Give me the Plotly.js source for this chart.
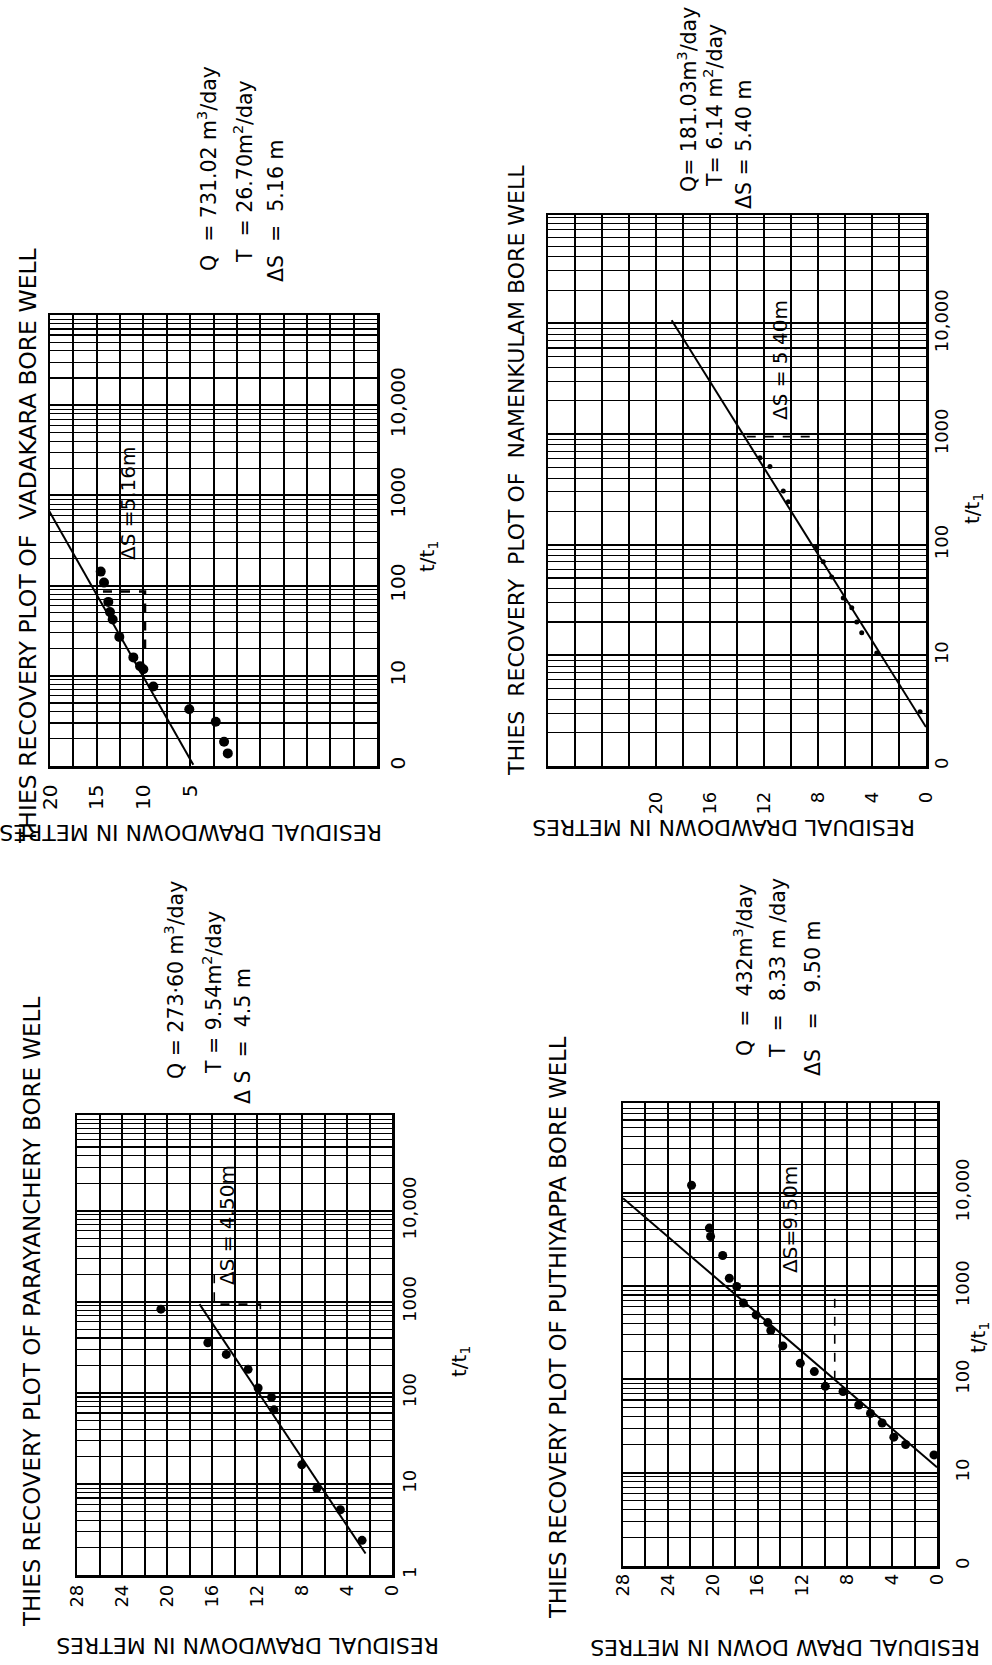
<!DOCTYPE html>
<html>
<head>
<meta charset="utf-8">
<script src="https://cdn.plot.ly/plotly-3.0.1.min.js"></script>
<style>
html,body{margin:0;padding:0;background:#fff;}
#chart{width:992px;height:1665px;}
</style>
</head>
<body>
<div id="chart"></div>
<script>
// ---------- DATA ----------
const vadakaraT = [143, 108, 66, 51, 42, 27, 16, 12.8, 11.8, 7.6, 4.25, 3.1, 1.86, 1.38];
const vadakaraS = [14.57, 14.22, 13.76, 13.58, 13.29, 12.58, 11.08, 10.36, 10.01, 8.94, 5.09, 2.26, 1.37, 0.97];
const vadakaraFitT = [1.03, 750];
const vadakaraFitS = [4.66, 20.35];
const vadakaraDeltaT = [86, 86, 17.9];
const vadakaraDeltaS = [14.33, 9.83, 9.83];

const namenkulamT = [610, 508, 306, 245, 96, 70, 51, 33, 27, 20, 16, 10.5, 3.1];
const namenkulamS = [12.3, 11.56, 10.57, 10.2, 8.1, 7.61, 6.99, 6.13, 5.5, 5.13, 4.76, 3.65, 0.44];
const namenkulamFitT = [2.25, 10700];
const namenkulamFitS = [0, 18.84];
const namenkulamDeltaT = [949, 949, 90];
const namenkulamDeltaS = [13.28, 7.98, 7.98];

const parayancheryT = [2.4, 5.2, 8.9, 16.2, 65, 89, 113, 181, 264, 355, 829];
const parayancheryS = [2.66, 4.59, 6.68, 8.02, 10.49, 10.71, 11.9, 12.79, 14.73, 16.37, 20.54];
const parayancheryFitT = [1.72, 942];
const parayancheryFitS = [2.35, 17.11];
const parayancheryDeltaT = [2000, 942, 942, 660];
const parayancheryDeltaS = [15.8, 15.8, 11.7, 11.7];

const puthiyappaT = [12000, 4170, 3390, 2120, 1210, 986, 655, 490, 405, 333, 228, 149, 121, 84, 74, 53, 43, 34, 24, 20, 15.5];
const puthiyappaS = [21.89, 20.3, 20.19, 19.11, 18.52, 17.86, 17.26, 16.13, 15.09, 14.82, 13.75, 12.19, 10.94, 9.96, 8.38, 6.98, 5.93, 4.89, 3.85, 2.8, 0.27];
const puthiyappaFitT = [8710, 11.4];
const puthiyappaFitS = [28, 0];
const puthiyappaDeltaT = [99, 912];
const puthiyappaDeltaS = [9.12, 9.12];

// tick labels
const tTickVals = [1, 10, 100, 1000, 10000];
const vadakaraTTicks = ['0', '10', '100', '1000', '10,000'];
const namenkulamTTicks = ['0', '10', '100', '1000', '10,000'];
const parayancheryTTicks = ['1', '10', '100', '1000', '10,000'];
const puthiyappaTTicks = ['0', '10', '100', '1000', '10,000'];
const vadakaraSTicks = [20, 15, 10, 5];
const namenkulamSTicks = [20, 16, 12, 8, 4, 0];
const parayancherySTicks = [28, 24, 20, 16, 12, 8, 4, 0];
const puthiyappaSTicks = [28, 24, 20, 16, 12, 8, 4, 0];

// texts
const titles = ['THIES RECOVERY PLOT OF  VADAKARA BORE WELL',
                'THIES  RECOVERY  PLOT OF  NAMENKULAM BORE WELL',
                'THIES RECOVERY PLOT OF PARAYANCHERY BORE WELL',
                'THIES RECOVERY PLOT OF PUTHIYAPPA BORE WELL'];
const infoQ = ['Q  = 731.02 m<sup>3</sup>/day', 'Q= 181.03m<sup>3</sup>/day', 'Q = 273·60 m<sup>3</sup>/day', 'Q  =  432m<sup>3</sup>/day'];
const infoT = ['T  = 26.70m<sup>2</sup>/day', 'T= 6.14 m<sup>2</sup>/day', 'T = 9.54m<sup>2</sup>/day', 'T  =  8.33 m /day'];
const infoDS = ['ΔS  =  5.16 m', 'ΔS = 5.40 m', 'Δ S  =  4.5 m', 'ΔS   =   9.50 m'];
const deltaLabels = ['ΔS =5.16m', 'ΔS = 5.40m', 'ΔS = 4.50m', 'ΔS=9.50m'];
const sTitles = ['RESIDUAL DRAWDOWN IN METRES', 'RESIDUAL DRAWDOWN IN METRES', 'RESIDUAL DRAWDOWN IN METRES', 'RESIDUAL DRAW DOWN IN METRES'];

// ---------- LAYOUT ----------
const W = 992, H = 1665;
const FONT = 'DejaVu Sans, Liberation Sans, Arial, sans-serif';
const fx = px => px / W;
const fy = px => 1 - px / H;

const panels = [
  {t: vadakaraT, s: vadakaraS, ft: vadakaraFitT, fs: vadakaraFitS, dt: vadakaraDeltaT, ds: vadakaraDeltaS,
   box: [50, 377, 315, 766], srange: [20, -15], sdt: 2.5, trange: [0, 5.0],
   sticks: vadakaraSTicks, tticks: vadakaraTTicks, msize: 10, dashW: 2.5, tickSize: 20,
   xStand: 8, yStand: 1, titleSize: 23.5,
   title: [28, 546], q: [207, 169], T: [244, 172], d: [276, 211], dl: [128, 503], ax: [191, 832], tt: [428, 557]},
  {t: namenkulamT, s: namenkulamS, ft: namenkulamFitT, fs: namenkulamFitS, dt: namenkulamDeltaT, ds: namenkulamDeltaS,
   box: [548, 926, 215, 766], srange: [28, 0], sdt: 2, trange: [0, 4.98],
   sticks: namenkulamSTicks, tticks: namenkulamTTicks, msize: 5, dashW: 1.6, tickSize: 18,
   xStand: 16, yStand: -2, titleSize: 22,
   title: [516, 471], q: [688, 100], T: [714, 106], d: [744, 145], dl: [780, 360], ax: [724, 828], tt: [973, 509]},
  {t: parayancheryT, s: parayancheryS, ft: parayancheryFitT, fs: parayancheryFitS, dt: parayancheryDeltaT, ds: parayancheryDeltaS,
   box: [77, 392, 1115, 1575], srange: [28, 0], sdt: 2, trange: [0, 5.05],
   sticks: parayancherySTicks, tticks: parayancheryTTicks, msize: 9, dashW: 1.6, tickSize: 18,
   xStand: 0, yStand: 0, titleSize: 23,
   title: [32, 1312], q: [175, 980], T: [212, 993], d: [243, 1036], dl: [227, 1225], ax: [248, 1646], tt: [460, 1362]},
  {t: puthiyappaT, s: puthiyappaS, ft: puthiyappaFitT, fs: puthiyappaFitS, dt: puthiyappaDeltaT, ds: puthiyappaDeltaS,
   box: [623, 937, 1103, 1566], srange: [28, 0], sdt: 2, trange: [0, 4.96],
   sticks: puthiyappaSTicks, tticks: puthiyappaTTicks, msize: 9, dashW: 1.6, tickSize: 18,
   xStand: -2, yStand: 8, titleSize: 22.7,
   title: [558, 1328], q: [743, 970], T: [778, 968], d: [813, 999], dl: [790, 1220], ax: [785, 1648], tt: [979, 1338]}
];

const traces = [];
const layout = {
  width: W, height: H,
  margin: {l: 0, r: 0, t: 0, b: 0},
  paper_bgcolor: '#fff', plot_bgcolor: '#fff',
  showlegend: false,
  font: {family: FONT, color: '#000'},
  annotations: []
};

function ann(text, p, size, angle, extra) {
  return Object.assign({
    text: text, x: fx(p[0]), y: fy(p[1]), xref: 'paper', yref: 'paper',
    showarrow: false, textangle: angle, xanchor: 'center', yanchor: 'middle',
    font: {family: FONT, size: size, color: '#000'}
  }, extra || {});
}

panels.forEach((p, i) => {
  const n = i + 1;
  const xa = 'x' + (n === 1 ? '' : n), ya = 'y' + (n === 1 ? '' : n);
  const xk = 'xaxis' + (n === 1 ? '' : n), yk = 'yaxis' + (n === 1 ? '' : n);
  layout[xk] = {
    domain: [fx(p.box[0]), fx(p.box[1])], anchor: ya,
    range: p.srange, tickmode: 'array', tickvals: p.sticks, ticktext: p.sticks.map(String),
    tickangle: -90, tickfont: {family: FONT, size: p.tickSize, color: '#000'},
    ticks: '', ticklabelstandoff: p.xStand,
    showgrid: true, gridcolor: '#000', gridwidth: 2,
    minor: {dtick: p.sdt, tick0: 0, showgrid: true, gridcolor: '#000', gridwidth: 2, ticks: ''},
    zeroline: false, showline: true, mirror: true, linecolor: '#000', linewidth: 2.5,
    fixedrange: true
  };
  layout[yk] = {
    domain: [fy(p.box[3]), fy(p.box[2])], anchor: xa, side: 'right',
    type: 'log', range: p.trange, tickmode: 'array', tickvals: tTickVals, ticktext: p.tticks,
    tickangle: -90, tickfont: {family: FONT, size: p.tickSize, color: '#000'},
    ticks: '', ticklabelstandoff: p.yStand,
    showgrid: true, gridcolor: '#000', gridwidth: 2,
    minor: {dtick: 'D1', showgrid: true, gridcolor: '#000', gridwidth: 1.1, ticks: ''},
    zeroline: false, showline: true, mirror: true, linecolor: '#000', linewidth: 2.5,
    fixedrange: true
  };
  traces.push({type: 'scatter', mode: 'lines', x: p.fs, y: p.ft, xaxis: xa, yaxis: ya,
               line: {color: '#000', width: 2}, hoverinfo: 'skip'});
  traces.push({type: 'scatter', mode: 'lines', x: p.ds, y: p.dt, xaxis: xa, yaxis: ya,
               line: {color: '#000', width: p.dashW, dash: 'dash'}, hoverinfo: 'skip'});
  traces.push({type: 'scatter', mode: 'markers', x: p.s, y: p.t, xaxis: xa, yaxis: ya,
               marker: {color: '#000', size: p.msize}, hoverinfo: 'skip'});

  layout.annotations.push(ann(titles[i], p.title, p.titleSize, -90));
  layout.annotations.push(ann(infoQ[i], p.q, 20.5, -90));
  layout.annotations.push(ann(infoT[i], p.T, 20.5, -90));
  layout.annotations.push(ann(infoDS[i], p.d, 20.5, -90));
  layout.annotations.push(ann(deltaLabels[i], p.dl, 20, -90));
  layout.annotations.push(ann(sTitles[i], p.ax, 22, 180));
  layout.annotations.push(ann('t/t<sub>1</sub>', p.tt, 20, -90));
});

Plotly.newPlot('chart', traces, layout, {staticPlot: true, displayModeBar: false});
</script>
</body>
</html>
